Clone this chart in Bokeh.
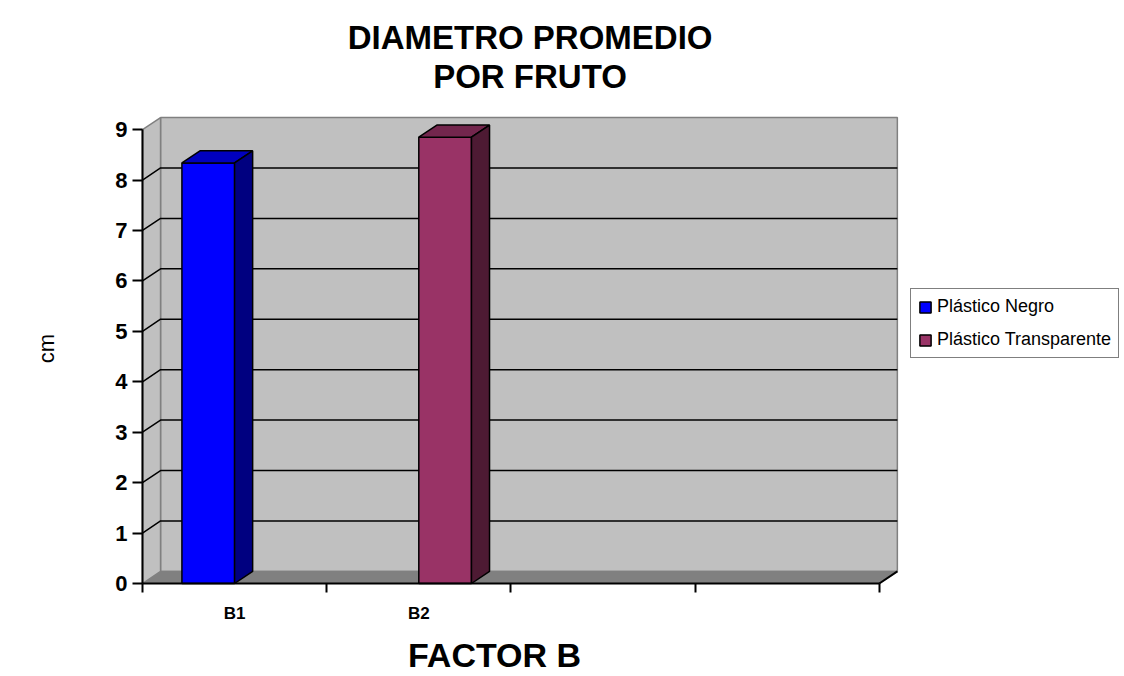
from bokeh.plotting import figure
from bokeh.models import Range1d, FixedTicker, Label, Legend, LegendItem
from bokeh.embed import file_html
from bokeh.resources import INLINE

# ---- data -------------------------------------------------------------
categories = ["B1", "B2", "", ""]
series_names = ["Plástico Negro", "Plástico Transparente"]
plastico_negro = [8.34, None, None, None]
plastico_transparente = [None, 8.85, None, None]
y_ticks = [0, 1, 2, 3, 4, 5, 6, 7, 8, 9]

# ---- layout / styling -------------------------------------------------
W, H = 1124, 676
ORIGIN_PX = (142, 583)        # where (0, 0) of the chart sits on the page
PX_X, PX_Y = 184.2, 50.43     # pixels per category / per value unit
FONT = "Liberation Sans"
N = len(categories)
Y_MAX = y_ticks[-1]
DX, DY = 0.098, 0.24          # depth of the 3-D box (category units, value units)
BAR_W = 0.286                 # bar width in category units (gap width 150 %)
WALL = "#C0C0C0"
FLOOR = "#808080"
EDGE = "#808080"

series = [
    (series_names[0], plastico_negro, -BAR_W, ("#0000FF", "#0000BF", "#000080")),
    (series_names[1], plastico_transparente, 0.0, ("#993366", "#73264D", "#4D1A33")),
]

ox, oy = ORIGIN_PX
x_range = Range1d(-ox / PX_X, (W - ox) / PX_X)
y_range = Range1d(-(H - oy) / PX_Y, oy / PX_Y)

p = figure(width=W, height=H, output_backend="svg", toolbar_location=None,
           title=None, x_range=x_range, y_range=y_range,
           min_border=0, min_border_left=0, min_border_right=0,
           min_border_top=0, min_border_bottom=0)
p.outline_line_color = None
p.grid.visible = False
p.background_fill_color = "white"
p.border_fill_color = "white"

# back wall, floor and left side wall
p.quad(left=DX, right=N + DX, bottom=DY, top=Y_MAX + DY,
       fill_color=WALL, line_color=EDGE, line_width=1.5)
p.patch([0, N, N + DX, DX], [0, 0, DY, DY],
        fill_color=FLOOR, line_color=EDGE, line_width=1.2)
p.patch([0, DX, DX, 0], [0, DY, Y_MAX + DY, Y_MAX],
        fill_color=WALL, line_color=EDGE, line_width=1.5)

# gridlines: diagonal on the side wall, horizontal on the back wall
grid_vals = y_ticks[1:-1]
p.multi_line(xs=[[0, DX, N + DX] for _ in grid_vals],
             ys=[[v, v + DY, v + DY] for v in grid_vals],
             line_color="black", line_width=1.5)
# right edge of the floor
p.line([N, N + DX], [0, DY], line_color="black", line_width=2)

# 3-D bars
legend_items = []
for name, values, offset, (c_front, c_top, c_side) in series:
    x0s, x1s, tops = [], [], []
    for i, v in enumerate(values):
        if v is None:
            continue
        x0 = i + 0.5 + offset
        x0s.append(x0)
        x1s.append(x0 + BAR_W)
        tops.append(v)
    front = p.quad(left=x0s, right=x1s, bottom=0, top=tops,
                   fill_color=c_front, line_color="black", line_width=1.5)
    p.patches(xs=[[a, b, b + DX, a + DX] for a, b in zip(x0s, x1s)],
              ys=[[t, t, t + DY, t + DY] for t in tops],
              fill_color=c_top, line_color="black", line_width=1.5)
    p.patches(xs=[[b, b + DX, b + DX, b] for b in x1s],
              ys=[[0, DY, t + DY, t] for t in tops],
              fill_color=c_side, line_color="black", line_width=1.5)
    legend_items.append(LegendItem(label=name, renderers=[front]))

# value axis, drawn at x = 0
yax = p.yaxis[0]
yax.fixed_location = 0
yax.ticker = FixedTicker(ticks=y_ticks)
yax.bounds = (0, Y_MAX)
yax.axis_line_color = "black"
yax.axis_line_width = 2
yax.major_tick_out = 10
yax.major_tick_in = 0
yax.major_tick_line_width = 2
yax.minor_tick_line_color = None
yax.major_label_standoff = 5
yax.major_label_text_font = FONT
yax.major_label_text_font_style = "bold"
yax.major_label_text_font_size = "22px"
yax.major_label_text_color = "black"

# category axis at y = 0: ticks on category boundaries, labels on centres
xax = p.xaxis[0]
xax.fixed_location = 0
xax.ticker = FixedTicker(ticks=[i + 0.5 for i in range(N)],
                         minor_ticks=[i for i in range(N + 1)])
xax.major_label_overrides = {i + 0.5: c for i, c in enumerate(categories)}
xax.bounds = (0, N)
xax.axis_line_color = "black"
xax.axis_line_width = 2
xax.major_tick_line_color = None
xax.major_tick_out = 0
xax.major_tick_in = 0
xax.minor_tick_out = 9
xax.minor_tick_in = 0
xax.minor_tick_line_width = 2
xax.minor_tick_line_color = "black"
xax.major_label_standoff = 11
xax.major_label_text_font = FONT
xax.major_label_text_font_style = "bold"
xax.major_label_text_font_size = "17px"
xax.major_label_text_color = "black"

# titles
for txt, yy in (("DIAMETRO PROMEDIO", 10.83), ("POR FRUTO", 10.06)):
    p.add_layout(Label(x=2.104, y=yy, text=txt, text_align="center",
                       text_baseline="alphabetic", text_font=FONT,
                       text_font_style="bold", text_font_size="33px",
                       text_color="black"))
p.add_layout(Label(x=1.911, y=-1.41, text="FACTOR B", text_align="center",
                   text_baseline="alphabetic", text_font=FONT,
                   text_font_style="bold", text_font_size="34px",
                   text_color="black"))
p.add_layout(Label(x=-0.521, y=4.66, text="cm", angle=1.5708,
                   text_align="center", text_baseline="middle",
                   text_font=FONT, text_font_size="22px", text_color="black"))

legend = Legend(items=legend_items, location=(910, 318),
                border_line_color="black", border_line_width=1,
                background_fill_color="white", background_fill_alpha=1,
                label_text_font=FONT, label_text_font_size="18px",
                label_text_color="black",
                glyph_width=14, glyph_height=14, label_height=14,
                spacing=12, padding=7, margin=0, label_standoff=5)
p.add_layout(legend)

open("out.html", "w").write(file_html(p, INLINE))
